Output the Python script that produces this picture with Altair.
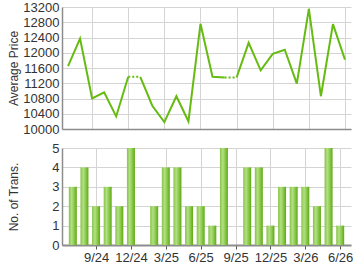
import altair as alt
import pandas as pd

months = ["7/24","8/24","9/24","10/24","11/24","12/24","1/25","2/25","3/25","4/25","5/25","6/25",
          "7/25","8/25","9/25","10/25","11/25","12/25","1/26","2/26","3/26","4/26","5/26","6/26"]
price = [11650, 12370, 10800, 10960, 10330, 11370, 11370, 10610, 10180, 10860, 10200, 12760,
         11370, 11350, 11350, 12260, 11540, 11970, 12080, 11190, 13150, 10860, 12750, 11820]
trans = [3, 4, 2, 3, 2, 5, 0, 2, 4, 4, 2, 2, 1, 5, 0, 4, 4, 1, 3, 3, 3, 2, 5, 1]
tick_idx = [2, 5, 8, 11, 14, 17, 20, 23]
tick_labels = ["9/24", "12/24", "3/25", "6/25", "9/25", "12/25", "3/26", "6/26"]

# segments: solid where consecutive months both have trades, dotted into a no-trade month
solid_rows, dot_rows = [], []
seg = 0
for i in range(len(months)):
    if i > 0 and trans[i] == 0:
        dot_rows.append({"i": i - 1, "p": price[i - 1], "g": i})
        dot_rows.append({"i": i, "p": price[i], "g": i})
        seg += 1
    solid_rows.append({"i": i, "p": price[i], "g": seg})
solid_df = pd.DataFrame(solid_rows)
dot_df = pd.DataFrame(dot_rows)
bar_df = pd.DataFrame({"i": list(range(len(months))), "n": trans, "m": months})

FONT = "Liberation Sans"
GRID = "#d4d4d4"
AX = "#8c8c8c"
label_expr = "[" + ",".join(f"'{l}'" for l in tick_labels) + "][indexof([" + ",".join(str(v) for v in tick_idx) + "], datum.value)]"

xscale = alt.Scale(domain=[-0.5, len(months) - 0.5], nice=False, zero=False)
W = 289

x_top = alt.X("i:Q", scale=xscale, axis=alt.Axis(values=tick_idx, labels=False, ticks=False,
              title=None, grid=True, gridColor=GRID, domainColor=AX, domainWidth=1.5))
y_top = alt.Y("p:Q", scale=alt.Scale(domain=[10000, 13200], nice=False, zero=False),
              axis=alt.Axis(values=list(range(10000, 13201, 400)), title="Average Price",
                            format="d", labelOverlap=False,
                            ticks=False, labelPadding=3, gridColor=GRID, domainColor=AX,
                            domainWidth=1.5, titleX=-42, titleFontWeight="normal"))

solid = alt.Chart(solid_df).mark_line(color="#66bb11", strokeWidth=2).encode(
    x=x_top, y=y_top, detail="g:N")
dotted = alt.Chart(dot_df).mark_line(color="#66bb11", strokeWidth=2, strokeDash=[2, 2]).encode(
    x=x_top, y=y_top, detail="g:N")
top = alt.layer(solid, dotted).properties(width=W, height=122)

grad = alt.Gradient(gradient="linear", x1=0, x2=1, y1=0, y2=0,
                    stops=[alt.GradientStop(color="#86c443", offset=0),
                           alt.GradientStop(color="#b3df86", offset=0.35),
                           alt.GradientStop(color="#8ccb4c", offset=0.65),
                           alt.GradientStop(color="#5ea816", offset=1)])
bars = alt.Chart(bar_df).mark_bar(size=8, color=grad).encode(
    x=alt.X("i:Q", scale=xscale, axis=alt.Axis(values=tick_idx, labelExpr=label_expr, title=None,
            grid=True, gridColor=GRID, domainColor=AX, domainWidth=2, tickColor="#555",
            tickSize=4, labelPadding=2, labelOverlap=False)),
    y=alt.Y("n:Q", scale=alt.Scale(domain=[0, 5], nice=False),
            axis=alt.Axis(values=[0, 1, 2, 3, 4, 5], title="No. of Trans.", ticks=False,
                          labelPadding=3, gridColor=GRID, domainColor=AX, domainWidth=1.5,
                          titleX=-42, titleFontWeight="normal"))
).properties(width=W, height=97)

chart = alt.vconcat(top, bars, spacing=6).properties(
    padding={"left": 6, "top": 1, "right": 6, "bottom": 0}, background="white"
).configure_axis(
    labelFont=FONT, labelFontSize=13, labelColor="#333", titleFont=FONT, titleFontSize=12,
    titleColor="#333"
).configure_view(stroke=None)

chart.save("out.html", embed_options={"renderer": "svg", "actions": False})
